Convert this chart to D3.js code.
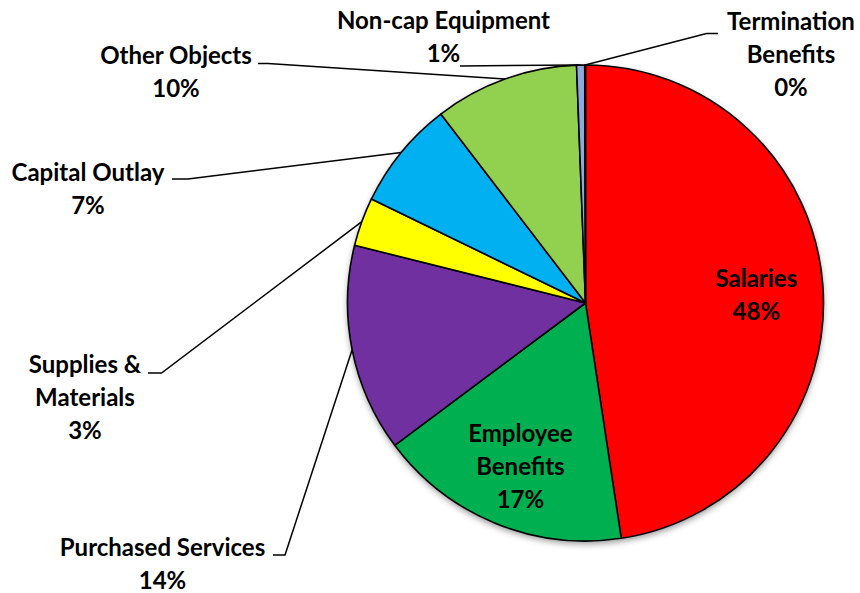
<!DOCTYPE html>
<html>
<head>
<meta charset="utf-8">
<script src="https://cdn.jsdelivr.net/npm/d3@7"></script>
<style>
  html, body { margin: 0; padding: 0; background: #fff; }
  svg { display: block; }
  text { font-family: "Lato", "Open Sans", sans-serif; font-weight: 700; font-size: 24px; fill: #000; }
</style>
</head>
<body>
<svg id="chart" width="860" height="593"></svg>
<script>
// Expenditure categories, clockwise from 12 o'clock
const categories = ["Salaries", "Employee Benefits", "Purchased Services", "Supplies & Materials",
                    "Capital Outlay", "Other Objects", "Non-cap Equipment", "Termination Benefits"];
// Share of total spending (percent)
const shares = [47.6, 17.2, 14.1, 3.3, 7.4, 9.8, 0.55, 0.05];
// How each category name is broken over lines in its label
const labelLines = [["Salaries"], ["Employee", "Benefits"], ["Purchased Services"], ["Supplies &", "Materials"],
                    ["Capital Outlay"], ["Other Objects"], ["Non-cap Equipment"], ["Termination", "Benefits"]];
const colors = ["#FF0000", "#00B050", "#7030A0", "#FFFF00", "#00B0F0", "#92D050", "#8EA9DB", "#C0504D"];

// Geometry
const cx = 585.5, cy = 303, R = 238;
const lineGap = 33;

// Outside label anchors (center x, first baseline) and leader-line points near the text
const outside = {
  2: { x: 162.5, y: 556, leader: [[273, 555], [285, 555]] },
  3: { x: 85, y: 373, leader: [[148, 373], [161.5, 373]] },
  4: { x: 88, y: 181, leader: [[172, 179], [188, 179]] },
  5: { x: 176, y: 64, leader: [[258, 63.5], [268, 63.5]] },
  6: { x: 443.5, y: 29, leader: [[460, 66]] },
  7: { x: 791, y: 30, leader: [[718, 33.5], [706.5, 33.5]] }
};

const svg = d3.select("#chart");
const defs = svg.append("defs");
const f = defs.append("filter").attr("id", "shadow")
  .attr("x", "-10%").attr("y", "-10%").attr("width", "120%").attr("height", "120%");
f.append("feDropShadow").attr("dx", 0).attr("dy", 3).attr("stdDeviation", 3)
  .attr("flood-color", "#000").attr("flood-opacity", 0.4);

const total = d3.sum(shares);
const pie = d3.pie().sort(null).value(d => d)(shares);
const arc = d3.arc().innerRadius(0).outerRadius(R);

const g = svg.append("g").attr("transform", `translate(${cx},${cy})`);

// soft shadow under the pie
g.append("circle").attr("r", R).attr("fill", "#fff").attr("filter", "url(#shadow)");

g.selectAll("path.slice").data(pie).join("path")
  .attr("class", "slice")
  .attr("d", arc)
  .attr("fill", (d, i) => colors[i])
  .attr("stroke", "#000")
  .attr("stroke-width", 1.6)
  .attr("stroke-linejoin", "round");

const pct = v => Math.round(v / total * 100) + "%";

// point on the rim at a slice's middle angle
function rimPoint(d, r) {
  const a = (d.startAngle + d.endAngle) / 2;
  return [cx + r * Math.sin(a), cy - r * Math.cos(a)];
}

// leader lines
const line = d3.line();
Object.keys(outside).forEach(k => {
  const i = +k, o = outside[k];
  const pts = o.leader.concat([rimPoint(pie[i], R)]);
  svg.append("path").attr("d", line(pts))
    .attr("fill", "none").attr("stroke", "#000").attr("stroke-width", 1.5);
});

// labels
pie.forEach((d, i) => {
  const lines = labelLines[i].concat([pct(shares[i])]);
  let x, y0;
  if (outside[i]) {
    x = outside[i].x; y0 = outside[i].y;
  } else {
    const p = rimPoint(d, R * 0.72);
    x = p[0];
    // center the block of lines vertically on the point
    y0 = p[1] - (lines.length - 1) * lineGap / 2 + 13;
  }
  const t = svg.append("text").attr("text-anchor", "middle");
  lines.forEach((s, j) => {
    t.append("tspan").attr("x", x).attr("y", y0 + j * lineGap).text(s);
  });
});
</script>
</body>
</html>
